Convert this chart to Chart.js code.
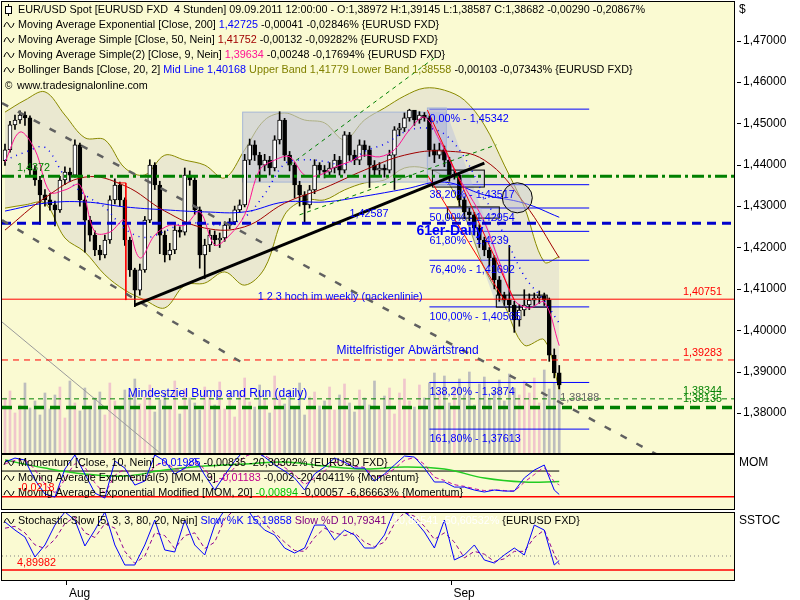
<!DOCTYPE html>
<html>
<head>
<meta charset="utf-8">
<title>EUR/USD Spot 4 Stunden</title>
<script src="https://cdn.jsdelivr.net/npm/chart.js@4.4.1/dist/chart.umd.min.js"></script>
<style>
  body { margin: 0; background: #fff; }
  .pane { position: absolute; left: 0; }
</style>
</head>
<body>
<canvas id="kurs" class="pane" width="800" height="455" style="top:0"></canvas>
<canvas id="momentum" class="pane" width="800" height="58" style="top:453px"></canvas>
<canvas id="stoch" class="pane" width="800" height="89" style="top:511px"></canvas>
<script>
// Kerzen, x = Kerzen-Index
const opens = [
  1.4410,1.4436,1.4496,1.4508,1.4520,1.4513,1.4387,1.4363,1.4327,1.4315,
  1.4303,1.4291,1.4363,1.4382,1.4375,1.4448,1.4315,1.4266,1.4230,1.4194,
  1.4182,1.4218,1.4315,1.4351,1.4315,1.4218,1.4146,1.4097,1.4146,1.4266,
  1.4399,1.4351,1.4230,1.4182,1.4194,1.4242,1.4237,1.4375,1.4363,1.4291,
  1.4182,1.4206,1.4230,1.4218,1.4223,1.4254,1.4262,1.4291,1.4303,1.4411,
  1.4448,1.4423,1.4399,1.4411,1.4392,1.4460,1.4508,1.4423,1.4399,1.4351,
  1.4327,1.4303,1.4339,1.4399,1.4387,1.4382,1.4392,1.4411,1.4387,1.4472,
  1.4423,1.4411,1.4448,1.4436,1.4399,1.4387,1.4392,1.4387,1.4423,1.4484,
  1.4489,1.4513,1.4532,1.4508,1.4520,1.4513,1.4436,1.4423,1.4436,1.4411,
  1.4375,1.4375,1.4315,1.4286,1.4279,1.4247,1.4218,1.4194,1.4175,1.4122,
  1.4085,1.4073,1.4061,1.4025,1.4049,1.4061,1.4073,1.4078,1.4083,1.4073,
  1.3940,1.3897
];
const highs = [
  1.4450,1.4505,1.4520,1.4530,1.4528,1.4518,1.4398,1.4372,1.4340,1.4330,
  1.4312,1.4372,1.4395,1.4392,1.4460,1.4452,1.4325,1.4275,1.4240,1.4205,
  1.4230,1.4325,1.4366,1.4358,1.4320,1.4225,1.4150,1.4160,1.4275,1.4412,
  1.4405,1.4360,1.4240,1.4210,1.4255,1.4250,1.4392,1.4385,1.4370,1.4298,
  1.4220,1.4242,1.4240,1.4235,1.4262,1.4270,1.4300,1.4315,1.4425,1.4462,
  1.4458,1.4430,1.4425,1.4420,1.4470,1.4528,1.4512,1.4432,1.4405,1.4360,
  1.4335,1.4350,1.4412,1.4405,1.4398,1.4405,1.4425,1.4420,1.4480,1.4478,
  1.4435,1.4460,1.4458,1.4445,1.4410,1.4405,1.4400,1.4435,1.4492,1.4500,
  1.4525,1.4534,1.4530,1.4528,1.4526,1.4518,1.4450,1.4452,1.4445,1.4418,
  1.4388,1.4380,1.4322,1.4295,1.4285,1.4255,1.4225,1.4200,1.4180,1.4130,
  1.4092,1.4205,1.4070,1.4062,1.4098,1.4088,1.4090,1.4095,1.4090,1.4078,
  1.3955,1.3915
];
const lows = [
  1.4398,1.4430,1.4485,1.4500,1.4495,1.4375,1.4350,1.4256,1.4300,1.4290,
  1.4252,1.4285,1.4352,1.4360,1.4370,1.4300,1.4189,1.4215,1.4180,1.4170,
  1.4175,1.4210,1.4305,1.4300,1.4205,1.4130,1.4057,1.4085,1.4140,1.4260,
  1.4340,1.4185,1.4165,1.4170,1.4185,1.4225,1.4230,1.4350,1.4280,1.4150,
  1.4125,1.4190,1.4205,1.4200,1.4215,1.4245,1.4255,1.4285,1.4298,1.4400,
  1.4410,1.4360,1.4385,1.4375,1.4385,1.4450,1.4410,1.4385,1.4320,1.4300,
  1.4262,1.4295,1.4330,1.4375,1.4368,1.4372,1.4380,1.4375,1.4380,1.4410,
  1.4400,1.4400,1.4420,1.4345,1.4372,1.4375,1.4370,1.4380,1.4340,1.4470,
  1.4480,1.4505,1.4495,1.4500,1.4505,1.4420,1.4405,1.4415,1.4395,1.4360,
  1.4365,1.4300,1.4270,1.4265,1.4230,1.4200,1.4180,1.4155,1.4100,1.4070,
  1.4060,1.4045,1.3995,1.4010,1.4035,1.4050,1.4060,1.4065,1.4060,1.3925,
  1.3885,1.3859
];
const closes = [
  1.4436,1.4496,1.4508,1.4520,1.4513,1.4387,1.4363,1.4327,1.4315,1.4303,
  1.4291,1.4363,1.4382,1.4375,1.4448,1.4315,1.4266,1.4230,1.4194,1.4182,
  1.4218,1.4315,1.4351,1.4315,1.4218,1.4146,1.4097,1.4146,1.4266,1.4399,
  1.4351,1.4230,1.4182,1.4194,1.4242,1.4237,1.4375,1.4363,1.4291,1.4182,
  1.4206,1.4230,1.4218,1.4223,1.4254,1.4262,1.4291,1.4303,1.4411,1.4448,
  1.4423,1.4399,1.4411,1.4392,1.4460,1.4508,1.4423,1.4399,1.4351,1.4327,
  1.4303,1.4339,1.4399,1.4387,1.4382,1.4392,1.4411,1.4387,1.4472,1.4423,
  1.4411,1.4448,1.4436,1.4399,1.4387,1.4392,1.4387,1.4423,1.4484,1.4489,
  1.4513,1.4532,1.4508,1.4520,1.4513,1.4436,1.4423,1.4436,1.4411,1.4375,
  1.4375,1.4315,1.4286,1.4279,1.4247,1.4218,1.4194,1.4175,1.4122,1.4085,
  1.4073,1.4061,1.4025,1.4049,1.4061,1.4073,1.4078,1.4083,1.4073,1.3940,
  1.3897,1.3868
];
const volumes = [
  55,62,40,48,70,45,52,38,60,44, 58,66,35,72,50,42,65,47,55,61,
  38,70,52,45,63,58,74,49,56,68, 41,53,60,47,72,39,64,55,50,43,
  66,57,48,71,44,59,36,62,75,51, 46,68,54,40,77,58,49,63,45,70,
  38,56,61,47,52,66,43,58,69,50, 41,63,55,48,72,44,57,65,39,60,
  74,52,46,68,55,70,80,62,77,50, 66,74,58,81,48,69,76,55,62,73,
  52,79,65,58,72,60,75,50,83,64, 70,78
];

// Bollinger Bands [Close, 20, 2]
const bbIdx = [0,4,8,12,16,20,24,28,32,36,40,44,48,52,56,60,64,68,72,76,80,84,88,92,96,100,104,108,111];
const bbUpper = [1.4527,1.4556,1.4576,1.4520,1.4465,1.4460,1.4392,1.4375,1.4423,1.4411,
  1.4399,1.4368,1.4436,1.4508,1.4525,1.4508,1.4501,1.4460,1.4508,1.4537,
  1.4566,1.4585,1.4580,1.4556,1.4496,1.4399,1.4298,1.4165,1.4178];
const bbLower = [1.4295,1.4303,1.4307,1.4223,1.4189,1.4134,1.4097,1.4073,1.4054,1.4109,
  1.4114,1.4141,1.4109,1.4150,1.4279,1.4315,1.4315,1.4339,1.4356,1.4363,
  1.4392,1.4392,1.4368,1.4279,1.4150,1.4061,1.3964,1.3977,1.3856];
const bbMid = [1.4411,1.4430,1.4442,1.4372,1.4327,1.4297,1.4245,1.4224,1.4239,1.4260,
  1.4257,1.4255,1.4273,1.4329,1.4402,1.4412,1.4408,1.4400,1.4432,1.4450,
  1.4479,1.4489,1.4474,1.4418,1.4323,1.4230,1.4131,1.4071,1.4017];

// Moving Averages
const maIdx = [0,8,16,24,32,40,48,56,64,72,80,88,96,104,111];
const ema200 = [1.4288,1.4307,1.4310,1.4298,1.4291,1.4286,1.4286,1.4310,1.4310,1.4324,1.4341,1.4358,1.4327,1.4307,1.4273];
const sma50 = [1.4242,1.4320,1.4370,1.4349,1.4288,1.4247,1.4250,1.4307,1.4344,1.4387,1.4423,1.4433,1.4411,1.4307,1.4175];
const sma9Idx = [0,3,6,9,12,15,18,21,24,27,30,33,36,39,42,45,48,51,54,57,60,63,66,69,72,75,78,81,84,87,90,93,96,99,102,105,108,111];
const sma9 = [1.4407,1.4479,1.4436,1.4334,1.4339,1.4351,1.4237,1.4237,1.4266,1.4175,
  1.4230,1.4254,1.4254,1.4286,1.4206,1.4230,1.4279,1.4387,1.4411,1.4419,
  1.4375,1.4375,1.4394,1.4407,1.4423,1.4419,1.4436,1.4484,1.4515,1.4460,
  1.4387,1.4327,1.4262,1.4165,1.4073,1.4054,1.4068,1.3963];

// Marken im Kursfenster
const levelValues = [1.4372, 1.42587, 1.40751, 1.39283, 1.38344, 1.38135];
const fibPct = ['0,00%','38,20%','50,00%','61,80%','76,40%','100,00%','138,20%','161,80%'];
const fibValues = [1.45342,1.43517,1.42954,1.4239,1.41692,1.40565,1.3874,1.37613];
const fibText = ['1,45342','1,43517','1,42954','1,4239','1,41692','1,40565','1,3874','1,37613'];
const fibFrom = 85, fibTo = 117;
// [x0, kurs0, x1, kurs1]
const trendLine = [26, 1.4061, 96, 1.4404];
const channelUpper = [-0.6, 1.4549, 146, 1.3600];
const channelLower = [-0.6, 1.4266, 49, 1.3911];
const greenUpper = [57, 1.4399, 86, 1.4658];
const greenLower = [59, 1.4279, 98.4, 1.4448];
const redUpper = [84.6, 1.4532, 102, 1.4073];
const redLower = [84.6, 1.4375, 100, 1.4073];
const greyCorner = [-0.6, 1.4020, 31, 1.3704];
const redMark = [[22.6, 1.4356], [24.2, 1.4356], [24.2, 1.4073]];
// Rechtecke [x0, x1, kurs oben, kurs unten]
const boxRange = [47.6, 84.6, 1.4527, 1.4358];
const boxTop = [84.6, 88.4, 1.4537, 1.4351];
const boxesBlack = [[85.6, 96, 1.4387, 1.4346], [88.6, 99, 1.4298, 1.4271], [98.4, 108.6, 1.4085, 1.4056]];
const dropArea = [[84.6, 1.4527], [88.4, 1.4527], [102, 1.4073], [98.4, 1.4061]];
const circleAt = [102.6, 1.4320];
const notes = ['61er-Daily', '1 2 3 hoch im weekly (nackenlinie)', 'Mittelfristiger Abwärtstrend', 'Mindestziel Bump and Run (daily)'];
const notesAt = [[82.4, 1.4240], [50.6, 1.4080], [66.4, 1.3950], [24.6, 1.3846]];

// Momentum [Close, 10]
const momIdx = [0,2,4,6,8,10,12,14,16,18,20,22,24,26,28,30,32,34,36,38,40,42,44,46,48,50,52,54,56,58,60,62,64,66,68,70,72,74,76,78,80,82,84,86,88,90,92,94,96,98,100,102,104,106,108,110,111];
const momentum = [0.0076,0.0110,0.0093,-0.0076,-0.0195,-0.0221,0.0017,0.0136,-0.0025,-0.0187,
  -0.0229,0.0085,0.0025,-0.0119,-0.0085,0.0136,0.0085,-0.0025,0.0025,0.0110,
  -0.0034,-0.0161,-0.0034,0.0085,0.0178,0.0170,0.0119,0.0051,0.0000,-0.0059,
  -0.0161,-0.0025,0.0034,0.0110,0.0076,0.0025,0.0025,-0.0085,-0.0025,0.0051,
  0.0127,0.0119,0.0025,-0.0093,-0.0093,-0.0136,-0.0136,-0.0161,-0.0178,-0.0161,
  -0.0170,-0.0170,-0.0059,0.0008,0.0051,-0.0161,-0.0199];
const momEma = [0.0060,0.0090,0.0095,0.0010,-0.0110,-0.0180,-0.0070,0.0060,0.0030,-0.0100,
  -0.0180,-0.0040,0.0010,-0.0070,-0.0080,0.0040,0.0070,0.0020,0.0020,0.0070,
  0.0015,-0.0090,-0.0060,0.0030,0.0120,0.0150,0.0130,0.0080,0.0030,-0.0030,
  -0.0110,-0.0060,0.0000,0.0070,0.0075,0.0040,0.0030,-0.0050,-0.0035,0.0020,
  0.0090,0.0110,0.0055,-0.0050,-0.0080,-0.0115,-0.0130,-0.0150,-0.0165,-0.0160,
  -0.0165,-0.0168,-0.0095,-0.0030,0.0025,-0.0090,-0.0118];
const momSlow = [0.0093,0.0025,-0.0025,-0.0042,0.0008,0.0042,0.0059,0.0076,0.0042,0.0017,0.0034,0.0017,-0.0059,-0.0093,-0.0089];
const momLevel = -0.0218;

// Stochastic Slow [5, 3, 3, 80, 20]
const slowK = [56.7,48.0,40.5,18.9,31.9,53.4,67.5,58.8,30.8,48.0,
  67.5,31.9,10.3,10.3,31.9,58.8,26.5,24.3,58.8,31.9,
  21.1,53.4,69.6,71.8,75.0,58.8,48.0,42.7,28.6,23.2,
  28.6,53.4,53.4,37.3,48.0,42.7,28.6,28.6,42.7,69.6,
  67.5,58.8,45.9,28.6,58.8,15.7,21.1,31.9,15.7,12.4,
  21.1,28.6,21.1,53.4,48.0,10.3,15.2];
const slowD = [50,52,45,32,28,38,55,62,45,40,
  55,50,25,12,20,45,42,28,42,45,
  28,35,60,70,73,68,55,45,35,26,
  25,40,50,45,42,45,35,30,35,55,
  67,63,52,38,45,35,18,25,22,14,
  17,25,25,40,48,22,10.8];
const stochLow = 20;
const stochMark = 4.89982;

const yTicks = [1.38,1.39,1.40,1.41,1.42,1.43,1.44,1.45,1.46,1.47];
const monthTicks = [12.4, 89.4];
const monthLabels = ['Aug', 'Sep'];

// ---------------------------------------------------------------
const FONT = '"Liberation Sans", Arial, sans-serif';
const TXT = 10.8;
const BG = '#FAFAD2';
const X_MIN = -0.6, X_MAX = 146;
const AXIS_W = 66;

Chart.defaults.font.family = FONT;
Chart.defaults.color = '#000';
Chart.defaults.animation = false;
Chart.defaults.plugins.legend.display = false;
Chart.defaults.plugins.tooltip.enabled = false;

const pts = (idx, vals) => idx.map((x, i) => ({ x, y: vals[i] }));
const seg = l => [{ x: l[0], y: l[1] }, { x: l[2], y: l[3] }];
const flat = (v, x0 = X_MIN, x1 = X_MAX) => [{ x: x0, y: v }, { x: x1, y: v }];
const comma = (v, d) => v.toFixed(d).replace('.', ',');

function lineDs(data, color, width, dash, order, extra) {
  return Object.assign({
    type: 'line', data, borderColor: color, borderWidth: width, borderDash: dash || [],
    pointRadius: 0, fill: false, tension: 0, order
  }, extra || {});
}

function writeParts(ctx, x, y, parts, size) {
  ctx.font = size + 'px ' + FONT;
  ctx.textBaseline = 'middle';
  ctx.textAlign = 'left';
  for (const [t, c] of parts) {
    ctx.fillStyle = c;
    ctx.fillText(t, x, y);
    x += ctx.measureText(t).width;
  }
}

function wave(ctx, x, y) {
  ctx.beginPath();
  ctx.moveTo(x, y + 2);
  ctx.quadraticCurveTo(x + 2.5, y - 6, x + 5, y);
  ctx.quadraticCurveTo(x + 7.5, y + 6, x + 10, y - 2);
  ctx.strokeStyle = '#000';
  ctx.lineWidth = 1;
  ctx.stroke();
}

// keine Extra-Polsterung oben/unten durch die Achse
function fixAxis(s) {
  s.width = AXIS_W;
  s.paddingTop = 0;
  s.paddingBottom = 0;
}

function xAxisHidden() {
  return { type: 'linear', min: X_MIN, max: X_MAX, offset: false, display: false };
}

function yAxisBlank(min, max) {
  return {
    position: 'right', min, max,
    ticks: { display: false }, grid: { display: false }, border: { display: false },
    afterFit: fixAxis
  };
}

// Hintergrund, Rahmen und Name rechts
const panel = {
  id: 'panel',
  beforeDraw(chart) {
    const { ctx, chartArea: a } = chart;
    ctx.save();
    ctx.fillStyle = BG;
    ctx.fillRect(a.left, a.top, a.right - a.left, a.bottom - a.top);
    ctx.restore();
  },
  afterDraw(chart, args, opts) {
    const { ctx, chartArea: a } = chart;
    ctx.save();
    ctx.strokeStyle = '#000';
    ctx.lineWidth = 1;
    ctx.strokeRect(Math.round(a.left) - 0.5, Math.round(a.top) - 0.5,
      Math.round(a.right - a.left) + 1, Math.round(a.bottom - a.top) + 1);
    ctx.fillStyle = '#000';
    ctx.font = '12px ' + FONT;
    ctx.textBaseline = 'middle';
    ctx.fillText(opts.name || '', a.right + 5, a.top + 8);
    if (opts.dashes) {
      chart.scales.y.ticks.forEach(t => {
        const py = Math.round(chart.scales.y.getPixelForValue(t.value));
        ctx.fillRect(a.right + 3, py, 4, 1);
      });
    }
    ctx.restore();
  }
};

// ---------------- Kursfenster ----------------
const drawings = {
  id: 'drawings',
  beforeDatasetDraw(chart, args) {
    if (chart.data.datasets[args.index].label !== 'wicks') return;
    const { ctx, chartArea: a } = chart;
    const xs = chart.scales.x, ys = chart.scales.y;
    const X = v => xs.getPixelForValue(v), Y = v => ys.getPixelForValue(v);
    const rect = (b, fill, stroke) => {
      const x0 = X(b[0]), x1 = X(b[1]), y0 = Y(b[2]), y1 = Y(b[3]);
      ctx.fillStyle = fill;
      ctx.fillRect(x0, y0, x1 - x0, y1 - y0);
      if (stroke) { ctx.strokeStyle = stroke; ctx.lineWidth = 1; ctx.strokeRect(x0, y0, x1 - x0, y1 - y0); }
    };
    ctx.save();
    ctx.beginPath(); ctx.rect(a.left, a.top, a.right - a.left, a.bottom - a.top); ctx.clip();
    rect(boxRange, 'rgba(196,198,214,0.62)', '#A6B6D6');
    rect(boxTop, 'rgba(170,176,214,0.55)', '#A6B6D6');
    ctx.beginPath();
    dropArea.forEach((p, i) => i ? ctx.lineTo(X(p[0]), Y(p[1])) : ctx.moveTo(X(p[0]), Y(p[1])));
    ctx.closePath();
    ctx.fillStyle = 'rgba(170,178,225,0.35)';
    ctx.fill();
    boxesBlack.forEach(b => rect(b, 'rgba(175,185,225,0.3)', '#000'));
    ctx.restore();
  },
  afterDatasetsDraw(chart) {
    const { ctx } = chart;
    const xs = chart.scales.x, ys = chart.scales.y;
    const X = v => xs.getPixelForValue(v), Y = v => ys.getPixelForValue(v);
    ctx.save();
    // Kreis
    ctx.beginPath();
    ctx.arc(X(circleAt[0]), Y(circleAt[1]), 15, 0, Math.PI * 2);
    ctx.fillStyle = 'rgba(190,192,210,0.5)';
    ctx.fill();
    ctx.strokeStyle = '#000';
    ctx.lineWidth = 1;
    ctx.stroke();

    ctx.textBaseline = 'middle';
    ctx.textAlign = 'left';
    // Fibonacci-Beschriftung
    ctx.font = TXT + 'px ' + FONT;
    ctx.fillStyle = '#0000FF';
    fibValues.forEach((v, i) => ctx.fillText(fibPct[i] + ' - ' + fibText[i], X(fibFrom), Y(v) + 10));
    // Kurswerte an den Linien
    ctx.fillStyle = '#008000';
    ctx.fillText(comma(levelValues[0], 4), X(2.4), Y(levelValues[0]) - 8);
    ctx.fillStyle = '#0000FF';
    ctx.fillText(comma(levelValues[1], 5), X(69), Y(levelValues[1]) - 9);
    ctx.fillStyle = '#FF0000';
    ctx.fillText(comma(levelValues[2], 5), X(135.8), Y(levelValues[2]) - 7);
    ctx.fillText(comma(levelValues[3], 5), X(135.8), Y(levelValues[3]) - 7);
    ctx.fillStyle = '#008000';
    ctx.fillText(comma(levelValues[4], 5), X(135.8), Y(levelValues[4]) - 8);
    ctx.fillText(comma(levelValues[5], 5), X(135.8), Y(levelValues[5]) - 8);
    ctx.fillStyle = '#666';
    ctx.fillText('1,38188', X(111.2), Y(1.38188) - 7);
    // Notizen
    ctx.fillStyle = '#0000FF';
    ctx.font = 'bold 14px ' + FONT;
    ctx.fillText(notes[0], X(notesAt[0][0]), Y(notesAt[0][1]));
    ctx.font = TXT + 'px ' + FONT;
    ctx.fillText(notes[1], X(notesAt[1][0]), Y(notesAt[1][1]));
    ctx.font = '12px ' + FONT;
    ctx.fillText(notes[2], X(notesAt[2][0]), Y(notesAt[2][1]));
    ctx.fillText(notes[3], X(notesAt[3][0]), Y(notesAt[3][1]));
    ctx.restore();
  },
  afterDraw(chart) {
    const { ctx } = chart;
    ctx.save();
    const k = '#000';
    const lines = [
      [['EUR/USD Spot [EURUSD FXD  4 Stunden] 09.09.2011 12:00:00 - O:1,38972 H:1,39145 L:1,38587 C:1,38682 -0,00290 -0,20867%', k]],
      [['Moving Average Exponential [Close, 200] ', k], ['1,42725', '#0000FF'], [' -0,00041 -0,02846% {EURUSD FXD}', k]],
      [['Moving Average Simple [Close, 50, Nein] ', k], ['1,41752', '#A00000'], [' -0,00132 -0,09282% {EURUSD FXD}', k]],
      [['Moving Average Simple(2) [Close, 9, Nein] ', k], ['1,39634', '#FF1493'], [' -0,00248 -0,17694% {EURUSD FXD}', k]],
      [['Bollinger Bands [Close, 20, 2] ', k], ['Mid Line 1,40168', '#0000FF'], [' Upper Band 1,41779 Lower Band 1,38558', '#808000'], [' -0,00103 -0,07343% {EURUSD FXD}', k]]
    ];
    lines.forEach((parts, i) => {
      const y = 10 + i * 15;
      writeParts(ctx, 18, y, parts, TXT);
      if (i === 0) {
        ctx.fillStyle = '#000';
        ctx.fillRect(8, y - 6, 1, 12);
        ctx.fillStyle = '#FFF';
        ctx.fillRect(6, y - 3, 5, 6);
        ctx.strokeStyle = '#000';
        ctx.strokeRect(5.5, y - 3.5, 6, 7);
      } else {
        wave(ctx, 4, y);
      }
    });
    writeParts(ctx, 5, 86, [['©', k]], 10);
    writeParts(ctx, 17, 86, [['www.tradesignalonline.com', k]], TXT);
    ctx.restore();
  }
};

const up = closes.map((c, i) => c >= opens[i]);

new Chart(document.getElementById('kurs'), {
  type: 'line',
  data: {
    datasets: [
      { type: 'bar', yAxisID: 'yv', data: volumes.map((v, i) => ({ x: i, y: v })),
        backgroundColor: up.map(u => u ? '#F0C6CC' : '#BDBDBD'), barThickness: 2,
        grouped: false, borderSkipped: false, order: 100 },
      lineDs(pts(bbIdx, bbUpper), '#8A8A00', 1, null, 90, { fill: '+1', backgroundColor: '#EAE8D0', tension: 0.35 }),
      lineDs(pts(bbIdx, bbLower), '#8A8A00', 1, null, 89, { tension: 0.35 }),
      ...fibValues.map(v => lineDs(flat(v, fibFrom, fibTo), '#0000FF', 1, null, 70)),
      lineDs(seg(greyCorner), '#9A9A9A', 1, null, 68),
      { type: 'bar', label: 'wicks', data: lows.map((l, i) => ({ x: i, y: [l, highs[i]] })),
        backgroundColor: '#000', barThickness: 1, grouped: false, borderSkipped: false, order: 60 },
      { type: 'bar', label: 'bodies', data: closes.map((c, i) => ({ x: i, y: [opens[i], c] })),
        backgroundColor: up.map(u => u ? '#FFFFFF' : '#000000'), borderColor: '#000', borderWidth: 1,
        barThickness: 4, minBarLength: 1, grouped: false, borderSkipped: false, order: 59 },
      lineDs(pts(bbIdx, bbMid), '#0000FF', 1.5, [1, 5], 50, { tension: 0.35 }),
      lineDs(pts(maIdx, ema200), '#0000FF', 1, null, 45, { tension: 0.4 }),
      lineDs(pts(maIdx, sma50), '#A00000', 1, null, 44, { tension: 0.4 }),
      lineDs(pts(sma9Idx, sma9), '#FF1493', 1, null, 43, { tension: 0.35 }),
      lineDs(seg(redUpper), '#FF0000', 1, null, 42),
      lineDs(seg(redLower), '#FF0000', 1, null, 41),
      lineDs(seg(greenUpper), '#008000', 1, [4, 4], 40),
      lineDs(seg(greenLower), '#008000', 1, [4, 4], 39),
      lineDs(flat(levelValues[0]), '#008000', 3, [12, 4, 3, 4], 30),
      lineDs(flat(levelValues[1]), '#0000CC', 3, [9, 6], 29),
      lineDs(flat(levelValues[2]), '#FF0000', 1, null, 28),
      lineDs(flat(levelValues[3]), '#FF0000', 1, [6, 5], 27),
      lineDs(flat(levelValues[4]), '#008000', 1, [5, 4], 26),
      lineDs(flat(levelValues[5]), '#008000', 3.5, [10, 6], 25),
      lineDs(redMark.map(p => ({ x: p[0], y: p[1] })), '#FF0000', 1, null, 22),
      lineDs(seg(channelUpper), '#606060', 2.5, [7, 11], 21),
      lineDs(seg(channelLower), '#606060', 2.5, [7, 11], 21),
      lineDs(seg(trendLine), '#000', 3, null, 20)
    ]
  },
  options: {
    responsive: false,
    layout: { padding: { left: 2, right: 0, top: 2, bottom: 2 } },
    scales: {
      x: xAxisHidden(),
      y: {
        position: 'right', min: 1.37036, max: 1.4793,
        afterBuildTicks: s => { s.ticks = yTicks.map(v => ({ value: v })); },
        afterFit: fixAxis,
        ticks: { callback: v => comma(v, 5), font: { size: 12 }, padding: 1, color: '#000' },
        grid: { display: false, drawTicks: true, tickLength: 8 }, border: { display: false }
      },
      yv: { display: false, min: 0, max: 451 }
    },
    plugins: { panel: { name: '$', dashes: true } }
  },
  plugins: [panel, drawings]
});

// ---------------- Momentum ----------------
const momText = {
  id: 'momText',
  afterDraw(chart) {
    const { ctx } = chart;
    const ys = chart.scales.y, xs = chart.scales.x;
    const top = chart.chartArea.top;
    ctx.save();
    const k = '#000';
    const lines = [
      [['Momentum [Close, 10, Nein] ', k], ['-0,01985', '#0000FF'], [' -0,00835 -20,30302% {EURUSD FXD}', k]],
      [['Moving Average Exponential(5) [MOM, 9] ', k], ['-0,01183', '#C0008C'], [' -0,002 -20,40411% {Momentum}', k]],
      [['Moving Average Exponential Modified [MOM, 20] ', k], ['-0,00894', '#00C000'], [' -0,00057 -6,86663% {Momentum}', k]]
    ];
    lines.forEach((parts, i) => {
      const y = top + 8 + i * 15;
      wave(ctx, 4, y);
      writeParts(ctx, 18, y, parts, TXT);
    });
    writeParts(ctx, xs.getPixelForValue(2.6), ys.getPixelForValue(momLevel) - 9, [[comma(momLevel, 4), '#FF0000']], TXT);
    ctx.restore();
  }
};

new Chart(document.getElementById('momentum'), {
  type: 'line',
  data: {
    datasets: [
      lineDs(flat(momLevel), '#FF0000', 1.5, null, 10),
      lineDs(flat(0, X_MIN, 111), '#000', 1, null, 9),
      lineDs(pts(maIdx, momSlow), '#22CC22', 1.5, null, 8, { tension: 0.4 }),
      lineDs(pts(momIdx, momEma), '#C000A0', 1, [4, 3], 7, { tension: 0.2 }),
      lineDs(pts(momIdx, momentum), '#0000FF', 1, null, 6)
    ]
  },
  options: {
    responsive: false,
    layout: { padding: { left: 2, right: 0, top: 2, bottom: 2 } },
    scales: { x: xAxisHidden(), y: yAxisBlank(-0.0322, 0.0136) },
    plugins: { panel: { name: 'MOM' } }
  },
  plugins: [panel, momText]
});

// ---------------- Stochastic ----------------
const stochText = {
  id: 'stochText',
  afterDraw(chart) {
    const { ctx } = chart;
    const ys = chart.scales.y, xs = chart.scales.x;
    const y = chart.chartArea.top + 8;
    ctx.save();
    wave(ctx, 4, y);
    writeParts(ctx, 18, y, [
      ['Stochastic Slow [5, 3, 3, 80, 20, Nein] ', '#000'], ['Slow %K 15,19858', '#0000FF'],
      [' Slow %D 10,79341', '#800080'], [' -10,80541 -50,60532% ', '#FFFFFF'], ['{EURUSD FXD}', '#000']
    ], TXT);
    writeParts(ctx, xs.getPixelForValue(2.4), ys.getPixelForValue(stochMark) - 7, [[comma(stochMark, 5), '#FF0000']], TXT);
    ctx.restore();
  }
};

new Chart(document.getElementById('stoch'), {
  type: 'line',
  data: {
    datasets: [
      lineDs(flat(stochMark), '#FF0000', 1.5, null, 10),
      lineDs(flat(stochLow), '#808080', 1, [1, 3], 9),
      lineDs(pts(momIdx, slowD), '#900090', 1, [4, 3], 8),
      lineDs(pts(momIdx, slowK), '#0000FF', 1, null, 7)
    ]
  },
  options: {
    responsive: false,
    layout: { padding: { left: 2, right: 0, top: 2, bottom: 0 } },
    scales: {
      x: {
        type: 'linear', min: X_MIN, max: X_MAX, offset: false,
        afterBuildTicks: s => { s.ticks = monthTicks.map(v => ({ value: v })); },
        afterFit: s => { s.height = 20; },
        grid: { display: true, drawOnChartArea: false, drawTicks: true, tickLength: 5, color: '#000' },
        border: { display: false },
        ticks: { callback: (v, i) => monthLabels[i], align: 'start', labelOffset: 2, padding: 1,
          maxRotation: 0, autoSkip: false, font: { size: 12 }, color: '#000' }
      },
      y: yAxisBlank(-5.9, 66.4)
    },
    plugins: { panel: { name: 'SSTOC' } }
  },
  plugins: [panel, stochText]
});
</script>
</body>
</html>
